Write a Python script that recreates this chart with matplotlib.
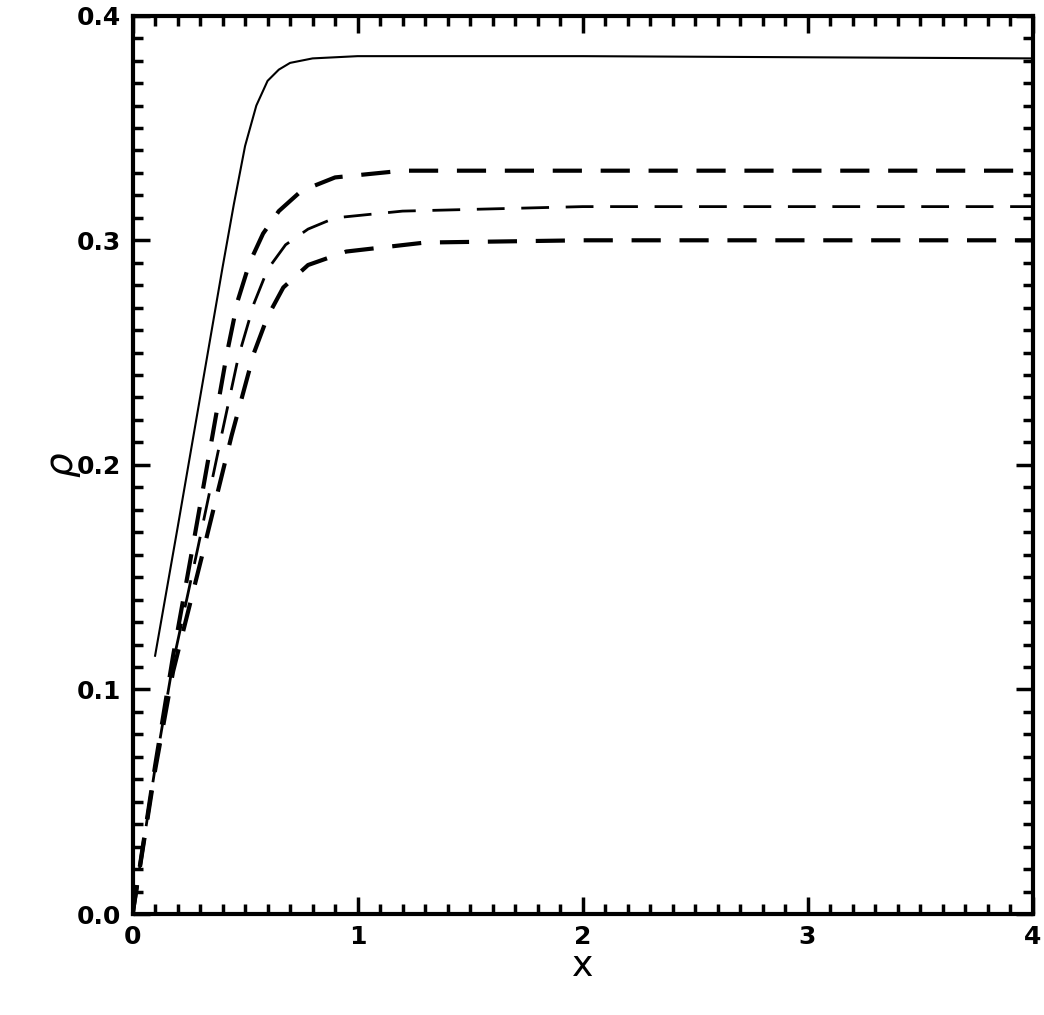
import matplotlib
matplotlib.use("Agg")
import matplotlib.pyplot as plt
from matplotlib.ticker import MultipleLocator

# ── Data ──────────────────────────────────────────────────────────────────────
x_solid = [0.1, 0.2, 0.3, 0.4, 0.45, 0.5, 0.55, 0.6, 0.65, 0.7, 0.8, 1.0, 2.0, 4.0]
y_solid = [0.115, 0.172, 0.230, 0.288, 0.316, 0.342, 0.360, 0.371, 0.376, 0.379, 0.381, 0.382, 0.382, 0.381]

x_hi  = [0.0, 0.1, 0.18, 0.27, 0.355, 0.42, 0.467, 0.52, 0.58, 0.65, 0.75, 0.9, 1.2, 2.0, 4.0]
y_hi  = [0.0, 0.066, 0.115, 0.165, 0.213, 0.250, 0.273, 0.290, 0.303, 0.313, 0.322, 0.328, 0.331, 0.331, 0.331]
x_mid = [0.0, 0.1, 0.18, 0.29, 0.395, 0.47, 0.54, 0.6, 0.68, 0.78, 0.9, 1.2, 2.0, 4.0]
y_mid = [0.0, 0.065, 0.112, 0.163, 0.213, 0.248, 0.272, 0.287, 0.298, 0.305, 0.310, 0.313, 0.315, 0.315]
x_lo  = [0.0, 0.1, 0.18, 0.31, 0.44, 0.54, 0.6, 0.67, 0.78, 0.95, 1.3, 2.0, 4.0]
y_lo  = [0.0, 0.064, 0.108, 0.160, 0.213, 0.250, 0.266, 0.279, 0.289, 0.295, 0.299, 0.300, 0.300]

# ── Plot ──────────────────────────────────────────────────────────────────────
fig = plt.figure(figsize=(10.44, 10.15), dpi=100)
ax = fig.add_axes([0.127, 0.0995, 0.862, 0.885])

ax.plot(x_solid, y_solid, color="black", lw=1.5)
ax.plot(x_hi, y_hi, color="black", lw=3.0, dashes=(7, 4.5))
ax.plot(x_mid, y_mid, color="black", lw=2.0, dashes=(10, 6))
ax.plot(x_lo, y_lo, color="black", lw=3.0, dashes=(7, 4.5))

ax.set_xlim(0, 4)
ax.set_ylim(0, 0.4)
ax.xaxis.set_minor_locator(MultipleLocator(0.1))
ax.yaxis.set_minor_locator(MultipleLocator(0.01))
ax.set_xticks([0, 1, 2, 3, 4])
ax.set_yticks([0, 0.1, 0.2, 0.3, 0.4])
ax.set_xticklabels(["0", "1", "2", "3", "4"], fontsize=18, fontweight="bold")
ax.set_yticklabels(["0.0", "0.1", "0.2", "0.3", "0.4"], fontsize=18, fontweight="bold")

ax.tick_params(which="both", direction="in", top=True, right=True, width=2.5)
ax.tick_params(which="major", length=12, pad=8)
ax.tick_params(which="minor", length=7)
for s in ax.spines.values():
    s.set_linewidth(3)

ax.set_xlabel("x", fontsize=26, labelpad=0)
ax.set_ylabel(r"$\rho$", fontsize=28, labelpad=-4)

fig.savefig("out.png", dpi=100)
